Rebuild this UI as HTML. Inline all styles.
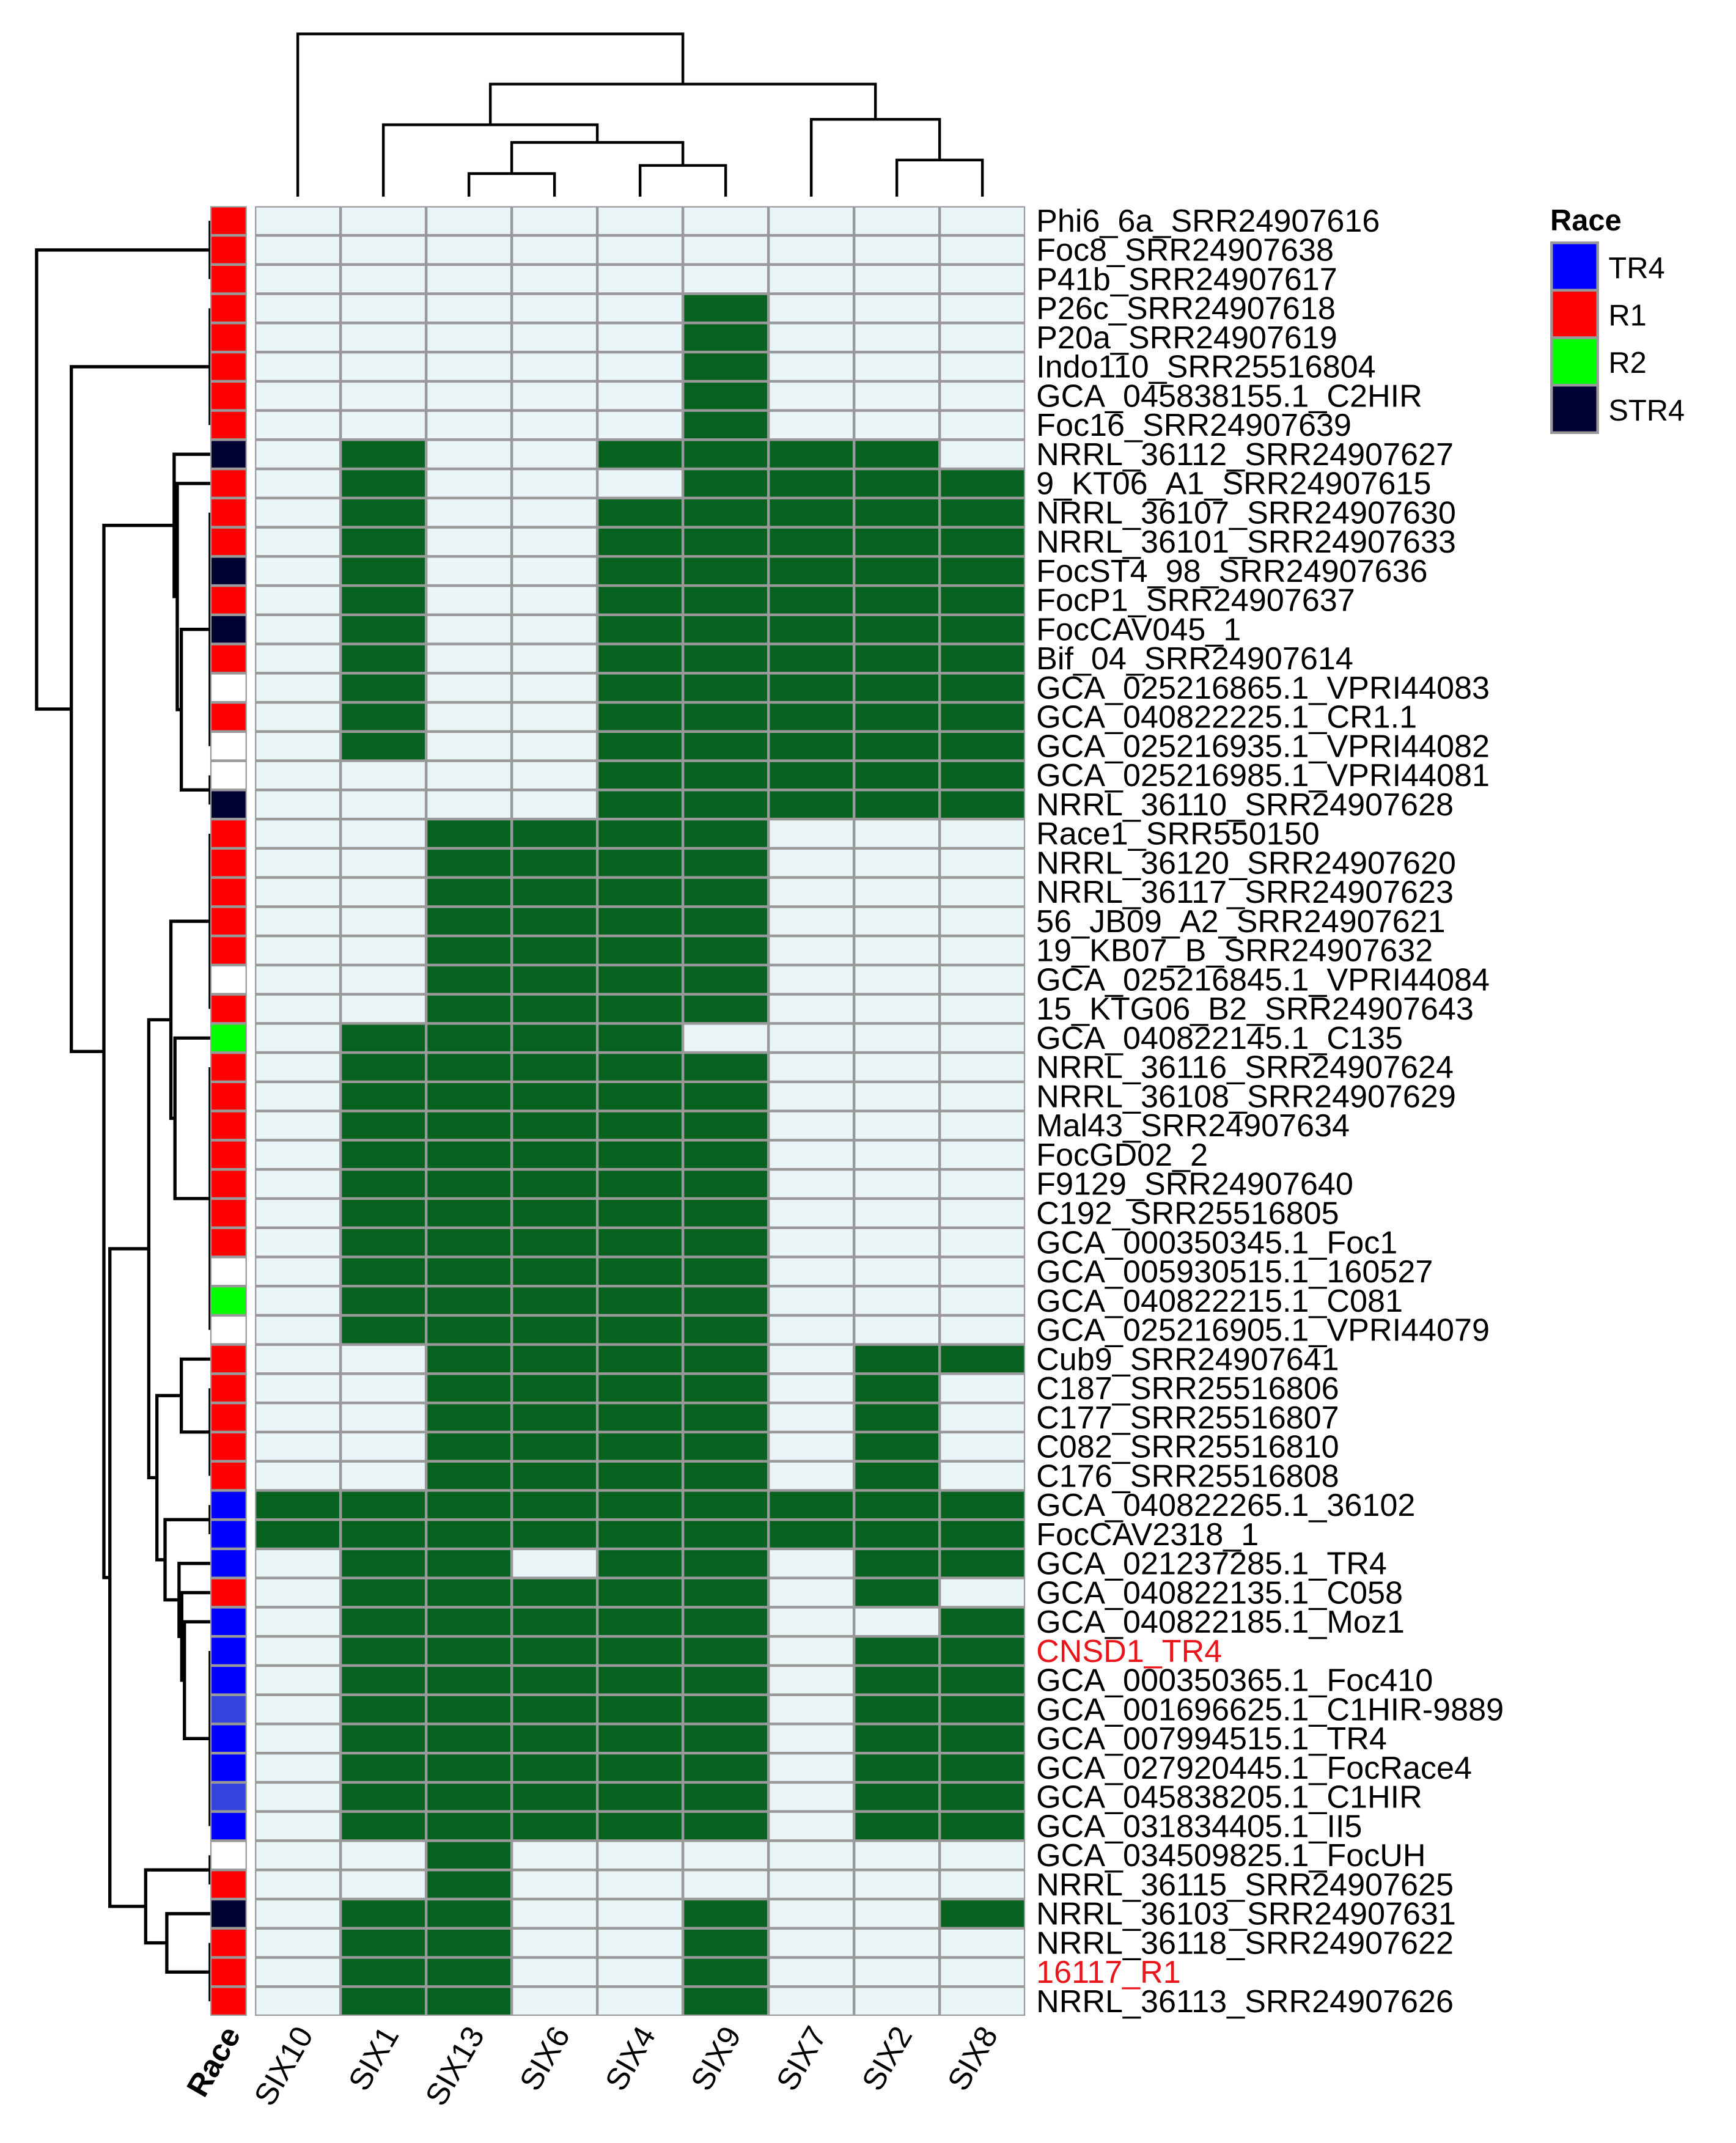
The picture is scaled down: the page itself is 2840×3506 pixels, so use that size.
<!DOCTYPE html>
<html><head><meta charset="utf-8"><style>
html,body{margin:0;padding:0;background:#fff;}
svg{display:block;font-family:"Liberation Sans",sans-serif;}
</style></head><body>
<svg id="chart" width="2840" height="3506" viewBox="0 0 1280 1580" preserveAspectRatio="none" xmlns="http://www.w3.org/2000/svg">
<rect width="1280" height="1580" fill="#fff"/>
<g id="coldendro" stroke="#000" stroke-width="2" fill="none"></g>
<g id="rowdendro" stroke="#000" stroke-width="2.4" fill="none"></g>
<g id="race"></g>
<g id="cells"></g>
<g id="rowlabels"></g>
<g id="collabels"></g>
<g id="legend">
<text x="1143" y="170" font-size="22" font-weight="bold">Race</text>
</g>
</svg>
<script>
const columns = ["SIX10","SIX1","SIX13","SIX6","SIX4","SIX9","SIX7","SIX2","SIX8"];
const rows = ["Phi6_6a_SRR24907616","Foc8_SRR24907638","P41b_SRR24907617","P26c_SRR24907618","P20a_SRR24907619","Indo110_SRR25516804","GCA_045838155.1_C2HIR","Foc16_SRR24907639","NRRL_36112_SRR24907627","9_KT06_A1_SRR24907615","NRRL_36107_SRR24907630","NRRL_36101_SRR24907633","FocST4_98_SRR24907636","FocP1_SRR24907637","FocCAV045_1","Bif_04_SRR24907614","GCA_025216865.1_VPRI44083","GCA_040822225.1_CR1.1","GCA_025216935.1_VPRI44082","GCA_025216985.1_VPRI44081","NRRL_36110_SRR24907628","Race1_SRR550150","NRRL_36120_SRR24907620","NRRL_36117_SRR24907623","56_JB09_A2_SRR24907621","19_KB07_B_SRR24907632","GCA_025216845.1_VPRI44084","15_KTG06_B2_SRR24907643","GCA_040822145.1_C135","NRRL_36116_SRR24907624","NRRL_36108_SRR24907629","Mal43_SRR24907634","FocGD02_2","F9129_SRR24907640","C192_SRR25516805","GCA_000350345.1_Foc1","GCA_005930515.1_160527","GCA_040822215.1_C081","GCA_025216905.1_VPRI44079","Cub9_SRR24907641","C187_SRR25516806","C177_SRR25516807","C082_SRR25516810","C176_SRR25516808","GCA_040822265.1_36102","FocCAV2318_1","GCA_021237285.1_TR4","GCA_040822135.1_C058","GCA_040822185.1_Moz1","CNSD1_TR4","GCA_000350365.1_Foc410","GCA_001696625.1_C1HIR-9889","GCA_007994515.1_TR4","GCA_027920445.1_FocRace4","GCA_045838205.1_C1HIR","GCA_031834405.1_II5","GCA_034509825.1_FocUH","NRRL_36115_SRR24907625","NRRL_36103_SRR24907631","NRRL_36118_SRR24907622","16117_R1","NRRL_36113_SRR24907626"];
const highlighted = ["CNSD1_TR4","16117_R1"];
const presence = [
"000000000","000000000","000000000",
"000001000","000001000","000001000","000001000","000001000",
"010011110","010001111",
"010011111","010011111","010011111","010011111","010011111","010011111","010011111","010011111","010011111",
"000011111","000011111",
"001111000","001111000","001111000","001111000","001111000","001111000","001111000",
"011110000",
"011111000","011111000","011111000","011111000","011111000","011111000","011111000","011111000","011111000","011111000",
"001111011","001111010","001111010","001111010","001111010",
"111111111","111111111",
"011011011","011111010","011111001",
"011111011","011111011","011111011","011111011","011111011","011111011","011111011",
"001000000","001000000",
"011001001","011001000","011001000","011001000"];
const raceOfRow = ["R1","R1","R1","R1","R1","R1","R1","R1","STR4","R1","R1","R1","STR4","R1","STR4","R1","NA","R1","NA","NA","STR4","R1","R1","R1","R1","R1","NA","R1","R2","R1","R1","R1","R1","R1","R1","R1","NA","R2","NA","R1","R1","R1","R1","R1","TR4","TR4","TR4","R1","TR4","TR4","TR4","TR4b","TR4","TR4","TR4b","TR4","NA","R1","STR4","R1","R1","R1"];
const legendLabels = ["TR4","R1","R2","STR4"];
const raceColors = {TR4:"#0000ff",TR4b:"#3344dd",R1:"#ff0000",R2:"#00ff00",STR4:"#000033",NA:"#ffffff"};
// column dendrogram: [height, left, right]; leaves = column index
const colTree = [120, 0, [83, [53, 1, [40, [17, 2, 3], [23, 4, 5]]], [57, 6, [27, 7, 8]]]];
// row dendrogram: [height, left, right]; leaves = row index, ["g",a,b] = zero-height group
const rowTree = [128,["g",0,2],[102.4,["g",3,7],[78.4,
  [26.6,8,[24.3,9,[21.3,["g",10,18],["g",19,20]]]],
  [74,
    [45.3,
      [29,["g",21,27],[26,28,["g",29,38]]],
      [39.3,[21.3,39,["g",40,43]],[33.3,["g",44,45],[23,46,[21,47,[19,48,["g",49,55]]]]]]],
    [47.6,["g",56,57],[32,58,["g",59,61]]]]]]];

const svg = document.getElementById('chart');
const NS = "http://www.w3.org/2000/svg";
const X0=188, CW=63.1, Y0=152, RH=21.52, LEAFX=155;
const colX = i => X0 + CW*(i+0.5);
const rowY = i => Y0 + RH*(i+0.5);
const colYscale = h => 145 - h*1.0;
const rowXscale = h => LEAFX - h*1.0;
function mk(tag, attrs, parent){const e=document.createElementNS(NS,tag);for(const k in attrs)e.setAttribute(k,attrs[k]);parent.appendChild(e);return e;}

// cells
const cg=document.getElementById('cells');
mk('rect',{x:X0,y:Y0,width:CW*9,height:RH*rows.length,fill:"#999"},cg);
presence.forEach((r,i)=>{for(let j=0;j<columns.length;j++){
  const el=mk('rect',{x:X0+CW*j+1,y:Y0+RH*i+1,width:CW-2,height:RH-2,fill:r[j]==='1'?"#07621f":"#eaf5f8"},cg);
  
  
}});
// race column
const rg=document.getElementById('race');
mk('rect',{x:155,y:Y0,width:27,height:RH*rows.length,fill:"#999"},rg);
raceOfRow.forEach((r,i)=>{
  const el=mk('rect',{x:156,y:Y0+RH*i+1,width:25,height:RH-2,fill:raceColors[r]},rg);
  
  
});
// row labels
const lg=document.getElementById('rowlabels');
rows.forEach((n,i)=>{
  const t=mk('text',{x:764,y:rowY(i)+8,'font-size':23.5,fill:highlighted.includes(n)?"#e8161b":"#000"},lg);
  t.textContent=n;
  
  
});
// column labels
const cl=document.getElementById('collabels');
const rl=mk('text',{x:0,y:0,'font-size':23,'font-weight':'bold','text-anchor':'end',transform:`translate(178,1500) rotate(-60)`},cl);
rl.textContent="Race";


columns.forEach((c,j)=>{
  const t=mk('text',{x:0,y:0,'font-size':23,'text-anchor':'end',transform:`translate(${colX(j)+12},1500) rotate(-60)`},cl);
  t.textContent=c;
  
  
});
// legend
const lgd=document.getElementById('legend');
legendLabels.forEach((l,k)=>{
  const y=179+k*35;
  const r=mk('rect',{x:1144,y:y,width:34,height:35,fill:raceColors[l],stroke:"#999",'stroke-width':2},lgd);
  
  
  const t=mk('text',{x:1186,y:y+26,'font-size':22},lgd);
  t.textContent=l;
  
  
});
// column dendrogram
const cd=document.getElementById('coldendro');
function drawCol(n){
  if(typeof n==='number') return {x:colX(n),y:145};
  const a=drawCol(n[1]), b=drawCol(n[2]), y=colYscale(n[0]);
  const p=mk('path',{d:`M${a.x},${a.y}V${y}H${b.x}V${b.y}`},cd);
  
  
  return {x:(a.x+b.x)/2,y:y};
}
drawCol(colTree);
// row dendrogram
const rdg=document.getElementById('rowdendro');
function drawRow(n){
  if(typeof n==='number') return {y:rowY(n),x:LEAFX};
  if(n[0]==='g'){
    const p=mk('path',{d:`M${LEAFX},${rowY(n[1])}V${rowY(n[2])}`},rdg);
    
    
    return {y:(rowY(n[1])+rowY(n[2]))/2,x:LEAFX};
  }
  const a=drawRow(n[1]), b=drawRow(n[2]), x=rowXscale(n[0]);
  const p=mk('path',{d:`M${a.x},${a.y}H${x}V${b.y}H${b.x}`},rdg);
  
  
  return {y:(a.y+b.y)/2,x:x};
}
drawRow(rowTree);
</script>
</body></html>
